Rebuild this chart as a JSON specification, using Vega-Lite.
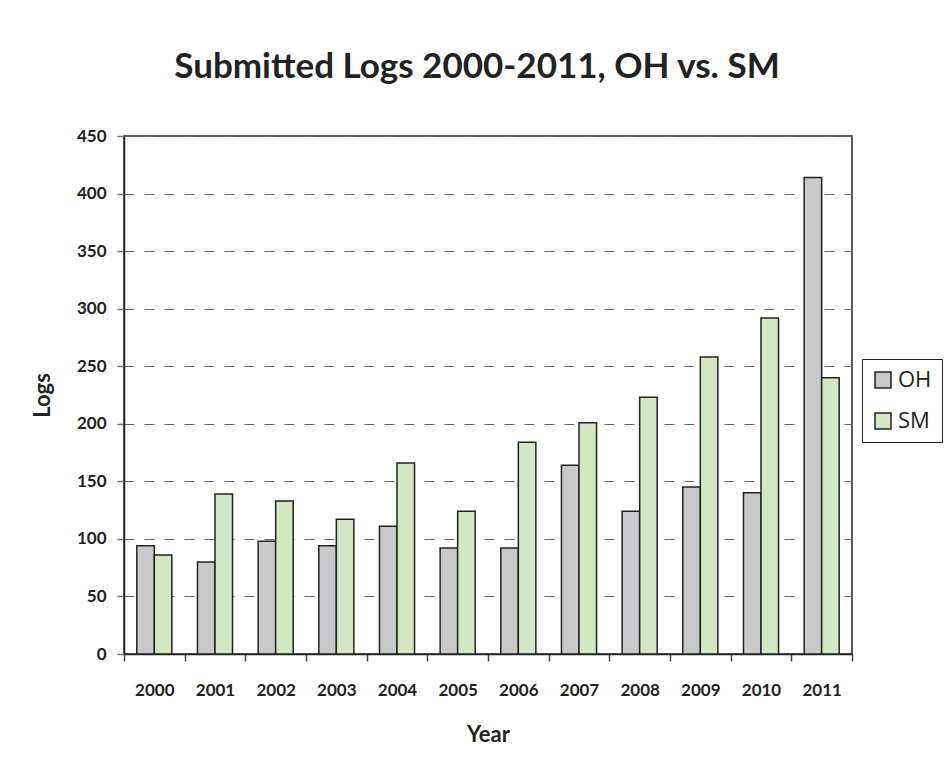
{
  "$schema": "https://vega.github.io/schema/vega-lite/v6.json",
  "width": 728,
  "height": 518,
  "autosize": {"type": "none"},
  "padding": {"left": 124, "top": 136, "right": 95, "bottom": 117},
  "background": "white",
  "title": {
    "text": "Submitted Logs 2000-2011, OH vs. SM",
    "font": "Lato",
    "fontSize": 35,
    "fontWeight": "bold",
    "color": "#222222",
    "anchor": "middle",
    "dx": -11,
    "offset": 42
  },
  "data": {
    "values": [
      {"Year": "2000", "Series": "OH", "Logs": 94},
      {"Year": "2000", "Series": "SM", "Logs": 86},
      {"Year": "2001", "Series": "OH", "Logs": 80},
      {"Year": "2001", "Series": "SM", "Logs": 139},
      {"Year": "2002", "Series": "OH", "Logs": 98},
      {"Year": "2002", "Series": "SM", "Logs": 133},
      {"Year": "2003", "Series": "OH", "Logs": 94},
      {"Year": "2003", "Series": "SM", "Logs": 117},
      {"Year": "2004", "Series": "OH", "Logs": 111},
      {"Year": "2004", "Series": "SM", "Logs": 166},
      {"Year": "2005", "Series": "OH", "Logs": 92},
      {"Year": "2005", "Series": "SM", "Logs": 124},
      {"Year": "2006", "Series": "OH", "Logs": 92},
      {"Year": "2006", "Series": "SM", "Logs": 184},
      {"Year": "2007", "Series": "OH", "Logs": 164},
      {"Year": "2007", "Series": "SM", "Logs": 201},
      {"Year": "2008", "Series": "OH", "Logs": 124},
      {"Year": "2008", "Series": "SM", "Logs": 223},
      {"Year": "2009", "Series": "OH", "Logs": 145},
      {"Year": "2009", "Series": "SM", "Logs": 258},
      {"Year": "2010", "Series": "OH", "Logs": 140},
      {"Year": "2010", "Series": "SM", "Logs": 292},
      {"Year": "2011", "Series": "OH", "Logs": 414},
      {"Year": "2011", "Series": "SM", "Logs": 240}
    ]
  },
  "mark": {"type": "bar", "stroke": "#222222", "strokeWidth": 1.5},
  "encoding": {
    "x": {
      "field": "Year",
      "type": "nominal",
      "scale": {"paddingInner": 0, "paddingOuter": 0},
      "axis": {
        "title": "Year",
        "labelAngle": 0,
        "tickBand": "extent",
        "tickSize": 7,
        "tickColor": "#444444",
        "tickWidth": 1.5,
        "domainColor": "#222222",
        "domainWidth": 1.5,
        "labelFont": "Lato",
        "labelFontSize": 17,
        "labelFontWeight": "bold",
        "labelColor": "#222222",
        "labelPadding": 21,
        "titleFont": "Lato",
        "titleFontSize": 22,
        "titleFontWeight": "bold",
        "titleColor": "#222222",
        "titlePadding": 26,
        "grid": false
      }
    },
    "xOffset": {
      "field": "Series",
      "type": "nominal",
      "scale": {"paddingInner": 0, "paddingOuter": 0.73}
    },
    "y": {
      "field": "Logs",
      "type": "quantitative",
      "scale": {"domain": [0, 450], "nice": false},
      "axis": {
        "title": "Logs",
        "values": [0, 50, 100, 150, 200, 250, 300, 350, 400, 450],
        "tickSize": 7,
        "tickColor": "#777777",
        "tickWidth": 1.5,
        "domainColor": "#222222",
        "domainWidth": 1.5,
        "labelFont": "Lato",
        "labelFontSize": 17,
        "labelFontWeight": "bold",
        "labelColor": "#222222",
        "labelPadding": 11,
        "titleFont": "Lato",
        "titleFontSize": 22,
        "titleFontWeight": "bold",
        "titleColor": "#222222",
        "titlePadding": 22,
        "grid": true,
        "gridColor": "#666666",
        "gridWidth": 1.2,
        "gridDash": [10, 10]
      }
    },
    "fill": {
      "field": "Series",
      "type": "nominal",
      "scale": {"domain": ["OH", "SM"], "range": ["#C8C9CB", "#D3E8C2"]},
      "legend": {
        "title": null,
        "orient": "none",
        "legendX": 738,
        "legendY": 223,
        "strokeColor": "#222222",
        "padding": 10,
        "symbolType": "square",
        "symbolSize": 256,
        "symbolStrokeColor": "#222222",
        "symbolStrokeWidth": 1.5,
        "labelFont": "Open Sans",
        "labelFontSize": 22,
        "labelColor": "#222222",
        "labelOffset": 4,
        "rowPadding": 19
      }
    }
  },
  "config": {
    "view": {"stroke": "#222222", "strokeWidth": 1.5}
  }
}
